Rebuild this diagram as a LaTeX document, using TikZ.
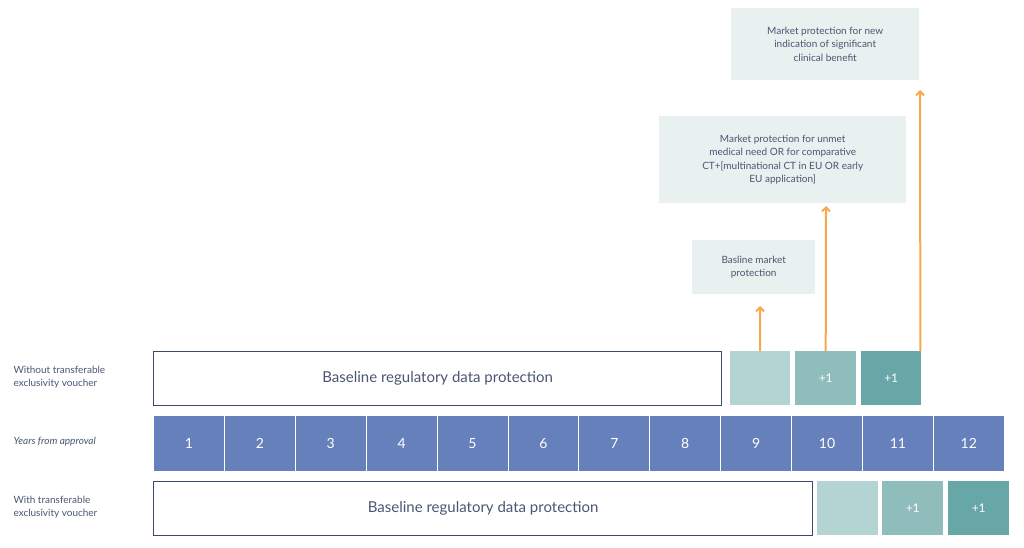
\documentclass[tikz,border=0pt]{standalone}
\usepackage{fontspec}
\setmainfont{Lato}
\begin{document}
\begin{tikzpicture}[x=1pt,y=-1pt,
  txt/.style={text=textc},
  yr/.style={draw=white,line width=1pt,fill=yearc,text=white,font=\fontsize{14}{16}\selectfont},
  base/.style={draw=darkb,line width=1.2pt,fill=white,text=textc,font=\fontsize{15}{18}\selectfont},
  t1/.style={fill=tl1,draw=none},
  t2/.style={fill=tl2,draw=none,text=white,font=\fontsize{12}{14}\selectfont},
  t3/.style={fill=tl3,draw=none,text=white,font=\fontsize{12}{14}\selectfont},
  lab/.style={fill=labc,text=textc,align=center,font=\fontsize{10}{13.5}\selectfont,inner sep=0pt},
  arr/.style={draw=orng,line width=2pt,-{Straight Barb[length=4pt,width=8pt]}},
  side/.style={text=textc,align=left,anchor=west,font=\fontsize{10}{12.5}\selectfont}]
\definecolor{textc}{HTML}{4A5673}
\definecolor{yearc}{HTML}{6680BB}
\definecolor{darkb}{HTML}{3B4A6B}
\definecolor{tl1}{HTML}{B3D4D3}
\definecolor{tl2}{HTML}{8FBDBC}
\definecolor{tl3}{HTML}{67A7A7}
\definecolor{labc}{HTML}{E8F1EF}
\definecolor{orng}{HTML}{F5A94A}
\useasboundingbox (0,0) rectangle (1024,548);
\usetikzlibrary{arrows.meta}
% year row
\foreach \i in {1,...,12} {
  \pgfmathsetmacro{\xa}{153+(\i-1)*70.9}
  \pgfmathsetmacro{\xb}{\xa+70.9}
  \node[yr,minimum width=70.9pt,minimum height=56pt,inner sep=0pt,anchor=north west] (y\i) at (\xa,415) {\i};
}
\node[side] (lyr) at (10,442) {\itshape Years from approval};
% top row
\node[base,minimum width=568pt,minimum height=54pt,anchor=north west] (b1) at (153,351) {Baseline regulatory data protection};
\node[t1,minimum width=60pt,minimum height=54pt,anchor=north west] (a9) at (730,351) {};
\node[t2,minimum width=61pt,minimum height=54pt,anchor=north west] (a10) at (795,351) {+1};
\node[t3,minimum width=60pt,minimum height=54pt,anchor=north west] (a11) at (861,351) {+1};
\node[side] (ltop) at (10,377) {Without transferable\\exclusivity voucher};
% bottom row
\node[base,minimum width=659pt,minimum height=54pt,anchor=north west] (b2) at (153,481) {Baseline regulatory data protection};
\node[t1,minimum width=61pt,minimum height=54pt,anchor=north west] (c1) at (817,481) {};
\node[t2,minimum width=61pt,minimum height=54pt,anchor=north west] (c2) at (882,481) {+1};
\node[t3,minimum width=61pt,minimum height=54pt,anchor=north west] (c3) at (948,481) {+1};
\node[side] (lbot) at (10,507) {With transferable\\exclusivity voucher};
% labels
\node[lab,minimum width=123pt,minimum height=54pt,anchor=north west] (L1) at (692,240) {Basline market\\protection};
\node[lab,minimum width=247pt,minimum height=87pt,anchor=north west] (L2) at (659,116) {Market protection for unmet\\medical need OR for comparative\\CT+[multinational CT in EU OR early\\EU application]};
\node[lab,minimum width=188pt,minimum height=72pt,anchor=north west] (L3) at (731,8) {Market protection for new\\indication of significant\\clinical benefit};
\coordinate (e1) at (760,306);
\coordinate (e2) at (826,206);
\coordinate (e3) at (920,90);
\draw[arr] (a9.north) -- (e1);
\draw[arr] (a10.north) -- (e2);
\draw[arr] (a11.north east) ++(-1,0) -- (e3);
\end{tikzpicture}
\end{document}
